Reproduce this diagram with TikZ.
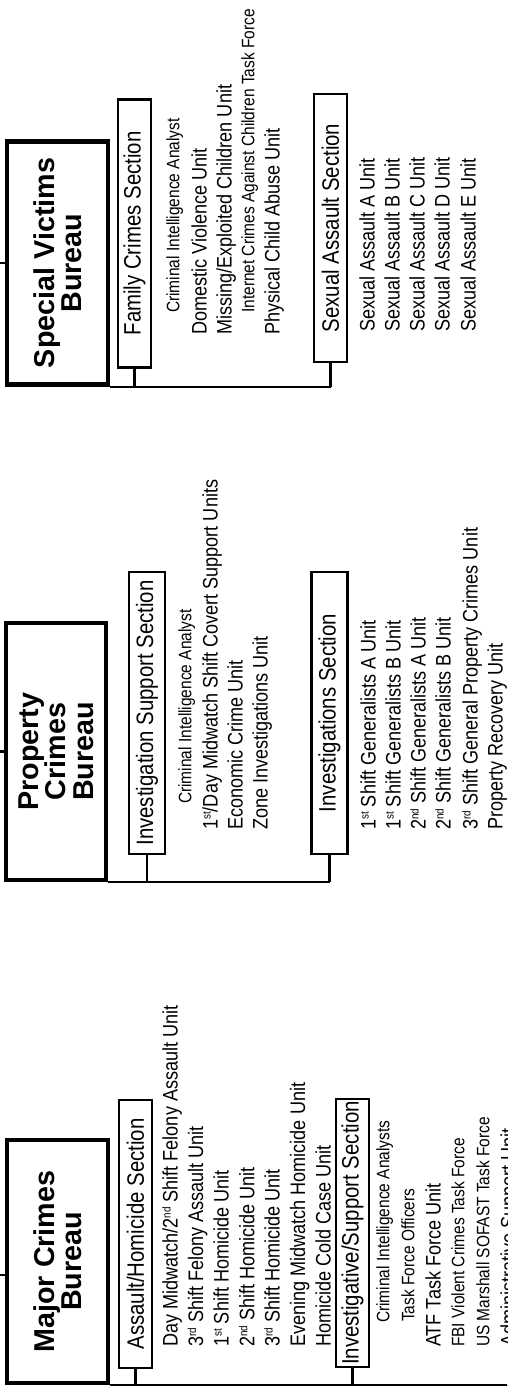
\documentclass[tikz,border=0pt]{standalone}
\usepackage{fontspec}
\setmainfont[FakeStretch=0.86]{Liberation Sans}
\newfontfamily\plainsans{Liberation Sans}
\newcommand{\ord}[1]{\raisebox{0.33em}{\fontsize{11.5}{11.5}\selectfont #1}}

\begin{document}
\begin{tikzpicture}[
    x=1pt, y=1pt,
    bureau/.style={draw, line width=4.4pt, rotate=90, minimum width=243pt, minimum height=101pt, inner sep=0pt, align=center, font=\plainsans\fontsize{28.7}{27.5}\selectfont\bfseries},
    section/.style={draw, line width=2.1pt, rotate=90, minimum width=268pt, minimum height=33pt, inner sep=0pt, font=\fontsize{23.7}{26}\selectfont},
    unit/.style={rotate=90, anchor=base west, inner sep=0pt, font=\fontsize{21}{24}\selectfont},
    subunit/.style={unit, font=\fontsize{18}{21}\selectfont},
    link/.style={line width=2.1pt},
]
    \useasboundingbox (0,0) rectangle (507,1389);
    \clip (0,0) rectangle (507,1389);
    \coordinate (edge) at (0,0);
    \coordinate (far) at (515,0);

    % Special Victims Bureau
    \node[bureau] (svb) at (57.5,1126) {Special Victims\\Bureau};
    \node[section] (fcs) at (134.5,1155.5) {Family Crimes Section};
    \node[section] (sas) at (330.5,1161) {Sexual Assault Section};

    \node[subunit] (fc1) at (179.4,1076) {Criminal Intelligence Analyst};
    \node[unit] (fc2) at (206.5,1054) {Domestic Violence Unit};
    \node[unit] (fc3) at (231.5,1054) {Missing/Exploited Children Unit};
    \node[subunit] (fc4) at (254.4,1076) {Internet Crimes Against Children Task Force};
    \node[unit] (fc5) at (279.5,1054) {Physical Child Abuse Unit};

    \node[unit] (sa1) at (374.5,1057) {Sexual Assault A Unit};
    \node[unit] (sa2) at (399.5,1057) {Sexual Assault B Unit};
    \node[unit] (sa3) at (424.5,1057) {Sexual Assault C Unit};
    \node[unit] (sa4) at (449.5,1057) {Sexual Assault D Unit};
    \node[unit] (sa5) at (475.5,1057) {Sexual Assault E Unit};

    \draw[link] (svb.north) -- (svb.north -| edge);
    \draw[link] (svb.south west) -- (sas.west |- svb.south west);
    \draw[link] (fcs.west) -- (fcs.west |- svb.south west);
    \draw[link] (sas.west) -- (sas.west |- svb.south west);

    % Property Crimes Bureau
    \node[bureau, minimum width=257pt, minimum height=100pt] (pcb) at (56,637.5) {Property\\Crimes\\Bureau};
    \node[section, minimum width=282pt, minimum height=36pt] (ivs) at (147,676) {Investigation Support Section};
    \node[section, minimum width=282pt, minimum height=36pt] (ins) at (329.5,676) {Investigations Section};

    \node[subunit] (is1) at (191.4,585) {Criminal Intelligence Analyst};
    \node[unit] (is2) at (217.5,559) {1\ord{st}/Day Midwatch Shift Covert Support Units};
    \node[unit] (is3) at (242.5,559) {Economic Crime Unit};
    \node[unit] (is4) at (267.5,559) {Zone Investigations Unit};

    \node[unit] (in1) at (375.5,559) {1\ord{st} Shift Generalists A Unit};
    \node[unit] (in2) at (400.5,559) {1\ord{st} Shift Generalists B Unit};
    \node[unit] (in3) at (425.5,559) {2\ord{nd} Shift Generalists A Unit};
    \node[unit] (in4) at (450.5,559) {2\ord{nd} Shift Generalists B Unit};
    \node[unit] (in5) at (477.5,559) {3\ord{rd} Shift General Property Crimes Unit};
    \node[unit] (in6) at (502.5,559) {Property Recovery Unit};

    \draw[link] (pcb.north) -- (pcb.north -| edge);
    \draw[link] (pcb.south west) -- (ins.west |- pcb.south west);
    \draw[link] (ivs.west) -- (ivs.west |- pcb.south west);
    \draw[link] (ins.west) -- (ins.west |- pcb.south west);

    % Major Crimes Bureau
    \node[bureau] (mcb) at (57.5,127.5) {Major Crimes\\Bureau};
    \node[section] (ahs) at (135.5,155) {Assault/Homicide Section};
    \node[section] (iss) at (352.5,156) {Investigative/Support Section};

    \node[unit] (ah1) at (177.5,42) {Day Midwatch/2\ord{nd} Shift Felony Assault Unit};
    \node[unit] (ah2) at (203.1,42) {3\ord{rd} Shift Felony Assault Unit};
    \node[unit] (ah3) at (228.5,42) {1\ord{st} Shift Homicide Unit};
    \node[unit] (ah4) at (254.3,42) {2\ord{nd} Shift Homicide Unit};
    \node[unit] (ah5) at (279.5,42) {3\ord{rd} Shift Homicide Unit};
    \node[unit] (ah6) at (305.2,42) {Evening Midwatch Homicide Unit};
    \node[unit] (ah7) at (330.5,42) {Homicide Cold Case Unit};

    \node[subunit] (su1) at (389.4,66) {Criminal Intelligence Analysts};
    \node[subunit] (su2) at (414.4,67) {Task Force Officers};
    \node[unit] (su3) at (440.5,42) {ATF Task Force Unit};
    \node[subunit] (su4) at (464.4,42) {FBI Violent Crimes Task Force};
    \node[subunit] (su5) at (489.4,42) {US Marshall SOFAST Task Force};
    \node[unit] (su6) at (515.5,42) {Administrative Support Unit};

    \draw[link] (mcb.104) -- (mcb.104 -| edge);
    \draw[link] (mcb.south west) -- (mcb.south west -| far);
    \draw[link] (ahs.west) -- (ahs.west |- mcb.south west);
    \draw[link] (iss.west) -- (iss.west |- mcb.south west);
\end{tikzpicture}
\end{document}
